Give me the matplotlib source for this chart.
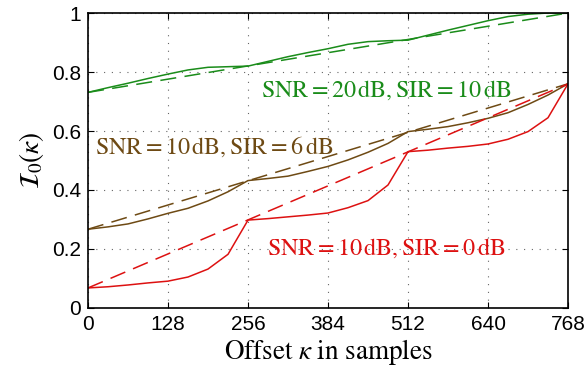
import numpy as np
import matplotlib
matplotlib.use('Agg')
import matplotlib.pyplot as plt

# offsets (samples)
kappa = [0, 32, 64, 96, 128, 160, 192, 224, 256, 288, 320, 352, 384,
         416, 448, 480, 512, 544, 576, 608, 640, 672, 704, 736, 768]

# simulated curves (solid)
i0_snr20_sir10 = [0.731, 0.747, 0.762, 0.778, 0.793, 0.807, 0.816, 0.818, 0.820,
                  0.836, 0.852, 0.866, 0.879, 0.894, 0.903, 0.906, 0.908,
                  0.925, 0.942, 0.958, 0.974, 0.988, 0.996, 1.0, 1.0]
i0_snr10_sir6 = [0.267, 0.275, 0.285, 0.302, 0.321, 0.338, 0.363, 0.394, 0.432,
                 0.439, 0.447, 0.463, 0.480, 0.502, 0.528, 0.558, 0.598,
                 0.606, 0.615, 0.628, 0.643, 0.662, 0.690, 0.722, 0.760]
i0_snr10_sir0 = [0.068, 0.072, 0.078, 0.085, 0.091, 0.105, 0.132, 0.182, 0.298,
                 0.303, 0.309, 0.315, 0.322, 0.340, 0.364, 0.417, 0.530,
                 0.535, 0.542, 0.548, 0.556, 0.572, 0.598, 0.645, 0.760]

# linear reference (dashed): end points
ends_x = [0, 768]
ref_snr20_sir10 = [0.731, 1.0]
ref_snr10_sir6 = [0.267, 0.760]
ref_snr10_sir0 = [0.068, 0.760]

green = '#1a8c1a'
brown = '#6e4a14'
red = '#dd1111'
dashed = (0, (10.5, 5.5))

plt.rcParams['mathtext.fontset'] = 'stix'
plt.rcParams['font.family'] = ['Liberation Sans', 'DejaVu Sans']

fig = plt.figure(figsize=(5.88, 3.73), dpi=100)
ax = fig.add_axes([0.1497, 0.1743, 0.8163, 0.7908])

ax.plot(kappa, i0_snr20_sir10, color=green, lw=1.1)
ax.plot(ends_x, ref_snr20_sir10, color=green, lw=1.1, ls=dashed)
ax.plot(kappa, i0_snr10_sir6, color=brown, lw=1.1)
ax.plot(ends_x, ref_snr10_sir6, color=brown, lw=1.1, ls=dashed)
ax.plot(kappa, i0_snr10_sir0, color=red, lw=1.1)
ax.plot(ends_x, ref_snr10_sir0, color=red, lw=1.1, ls=dashed)

ax.text(477, 0.739, r'$\mathrm{SNR} = 20\,\mathrm{dB}, \mathrm{SIR} = 10\,\mathrm{dB}$',
        color=green, fontsize=17.3, ha='center', va='center')
ax.text(201, 0.546, r'$\mathrm{SNR} = 10\,\mathrm{dB}, \mathrm{SIR} = 6\,\mathrm{dB}$',
        color=brown, fontsize=17.3, ha='center', va='center')
ax.text(477, 0.203, r'$\mathrm{SNR} = 10\,\mathrm{dB}, \mathrm{SIR} = 0\,\mathrm{dB}$',
        color=red, fontsize=17.3, ha='center', va='center')

ax.set_xlim(0, 768)
ax.set_ylim(0, 1)
ax.set_xticks([0, 128, 256, 384, 512, 640, 768])
ax.set_yticks([0, 0.2, 0.4, 0.6, 0.8, 1])
ax.set_yticklabels(['0', '0.2', '0.4', '0.6', '0.8', '1'])
ax.tick_params(direction='in', top=True, right=True, labelsize=15, length=4, width=0.8, pad=5)
ax.grid(True, ls=(0, (1, 6)), color='#666666', lw=0.8)
for s in ax.spines.values():
    s.set_linewidth(1.2)

ax.set_xlabel(r'$\mathrm{Offset}\ \kappa\ \mathrm{in\ samples}$', fontsize=19.5, labelpad=2)
ax.set_ylabel(r'$\mathcal{I}_0(\kappa)$', fontsize=19.5, labelpad=4)

fig.savefig('out.png', dpi=100)
